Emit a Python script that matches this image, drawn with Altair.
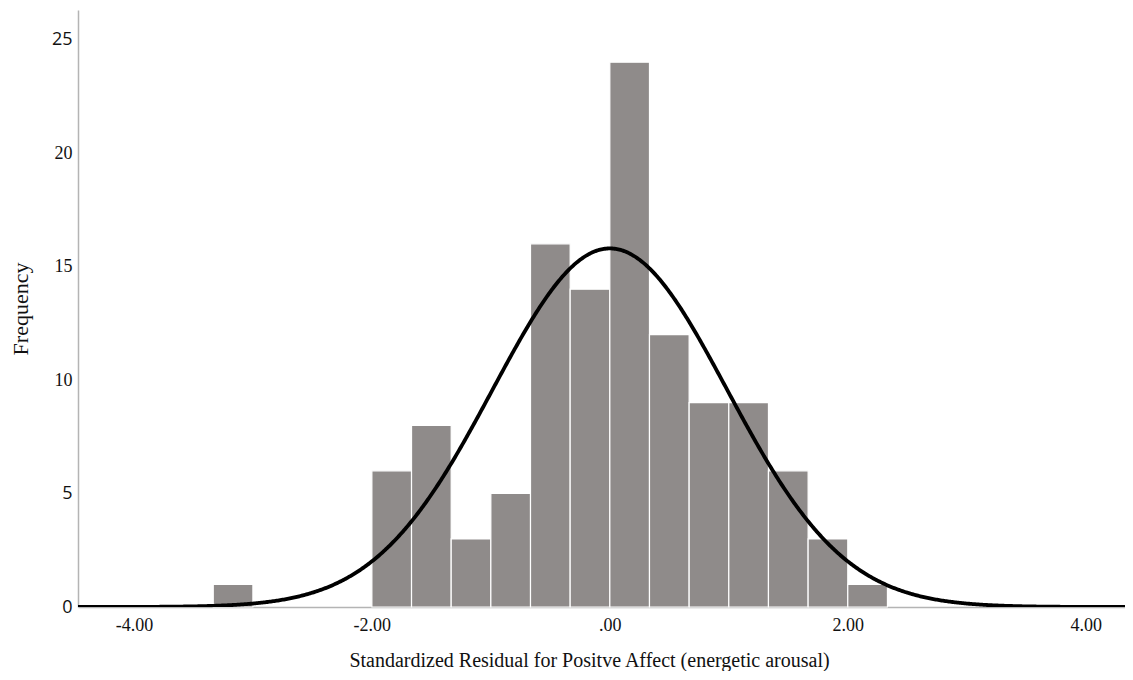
import altair as alt
import pandas as pd

# Histogram bins (lower edge) and counts
bin_start = [-3.3333, -2.0, -1.6667, -1.3333, -1.0, -0.6667, -0.3333, 0.0,
             0.3333, 0.6667, 1.0, 1.3333, 1.6667, 2.0]
counts = [1, 6, 8, 3, 5, 16, 14, 24, 12, 9, 9, 6, 3, 1]
bin_width = 1 / 3

# Normal curve parameters (SPSS overlay)
curve_mean = 0.0
curve_sd = 0.985
n_total = sum(counts)

x_ticks = [-4, -2, 0, 2, 4]
y_ticks = [0, 5, 10, 15, 20, 25]

x_domain = [-4.47, 4.33]
y_domain = [0, 26.3]

df = pd.DataFrame({"start": bin_start, "count": counts})

label_expr = ("datum.value == -4 ? '-4.00' : datum.value == -2 ? '-2.00' : "
              "datum.value == 0 ? '.00' : datum.value == 2 ? '2.00' : '4.00'")

serif = "Liberation Serif"

x_scale = alt.Scale(domain=x_domain, nice=False, zero=False)
y_scale = alt.Scale(domain=y_domain, nice=False)

x_axis = alt.Axis(
    values=x_ticks, labelExpr=label_expr, title="Standardized Residual for Positve Affect (energetic arousal)",
    grid=False, ticks=False, domainColor="#b4b4b4", domainWidth=1.5,
    labelFont=serif, labelFontSize=18, labelColor="#111", labelPadding=9,
    titleFont=serif, titleFontSize=20, titleFontWeight="normal", titleColor="#111", titlePadding=16,
    titleX=511, titleAlign="center",
)
y_axis = alt.Axis(
    values=y_ticks, title="Frequency", grid=False, ticks=False,
    domainColor="#b4b4b4", domainWidth=1.5,
    labelFont={"condition": {"test": "datum.value == 25 || datum.value == 5 || datum.value == 0",
                             "value": "Open Sans"}, "value": serif},
    labelFontSize=18, labelColor="#111", labelPadding=6,
    titleFont=serif, titleFontSize=22, titleFontWeight="normal", titleColor="#111", titlePadding=19,
)

bars = alt.Chart(df).transform_calculate(
    end=f"datum.start + {bin_width}"
).mark_rect(color="#8f8b8a", stroke="white", strokeWidth=1.2).encode(
    x=alt.X("start:Q", scale=x_scale, axis=x_axis),
    x2="end:Q",
    y=alt.Y("count:Q", scale=y_scale, axis=y_axis),
    y2=alt.datum(0),
)

curve = alt.Chart(
    alt.sequence(start=x_domain[0], stop=x_domain[1] + 0.01, step=0.01, as_="x")
).transform_calculate(
    y=f"{n_total} * {bin_width} * exp(-0.5 * pow((datum.x - {curve_mean}) / {curve_sd}, 2)) / ({curve_sd} * sqrt(2 * PI))"
).mark_line(color="black", strokeWidth=3.8, clip=True).encode(
    x=alt.X("x:Q", scale=x_scale),
    y=alt.Y("y:Q", scale=y_scale),
)

chart = alt.layer(bars, curve).properties(
    width=1047, height=597,
    background="white",
    autosize=alt.AutoSizeParams(type="none"),
    padding={"left": 70, "top": 2, "right": 0, "bottom": 64},
).configure_view(stroke=None)

chart.save("out.html", embed_options={"renderer": "svg", "actions": False})
